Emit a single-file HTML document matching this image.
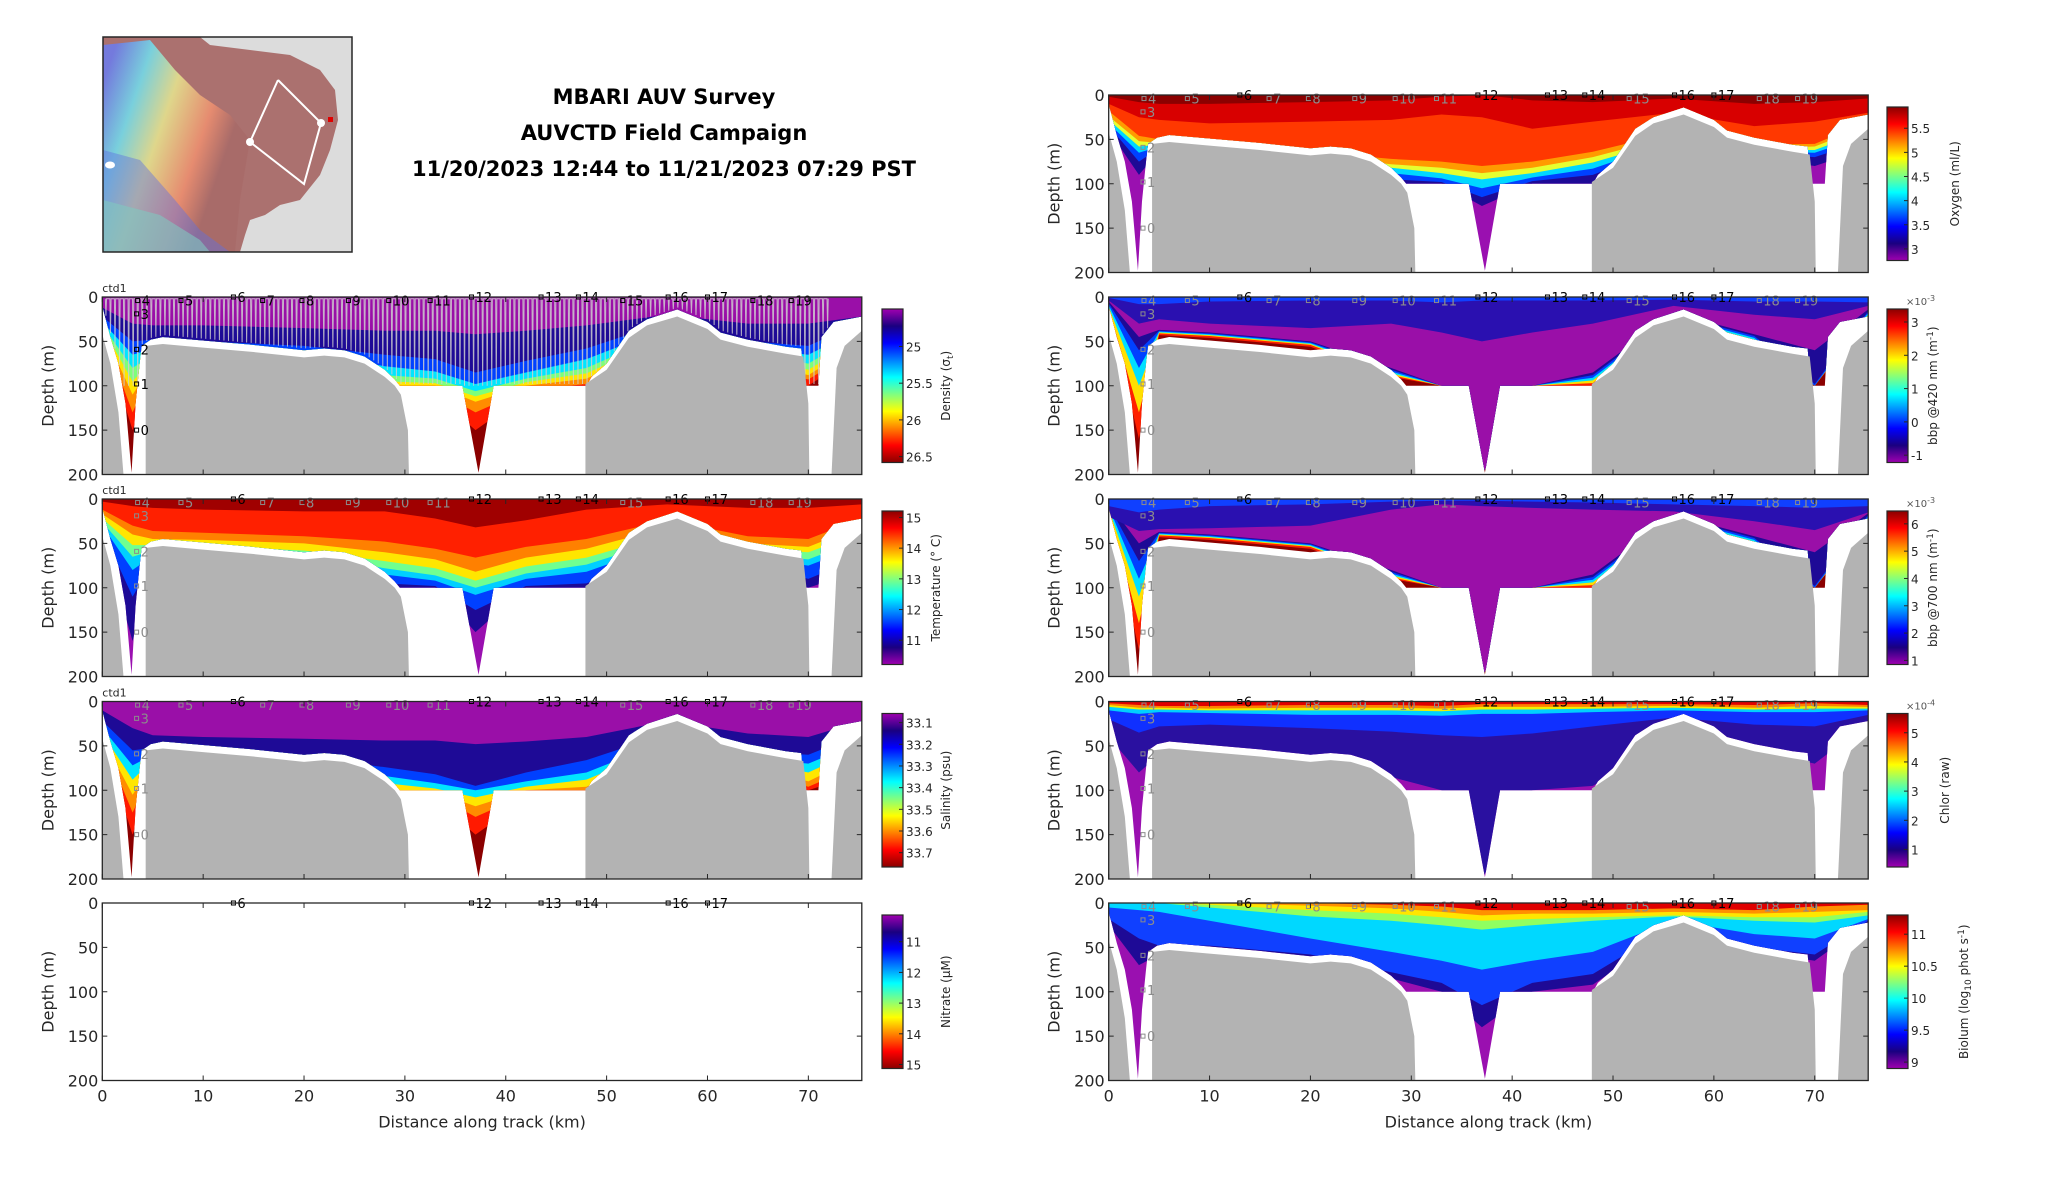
<!DOCTYPE html>
<html><head><meta charset="utf-8">
<style>
html,body{margin:0;padding:0;background:#fff;}
svg{display:block;font-family:"DejaVu Sans","Liberation Sans",sans-serif;}
</style></head>
<body>
<svg id="fig" width="2052" height="1188" viewBox="0 0 2052 1188" xmlns="http://www.w3.org/2000/svg">
<defs id="defs"></defs>
<g id="map">
  <defs>
    <linearGradient id="mapgrad" x1="0" y1="0.2" x2="0.8" y2="0.6">
      <stop offset="0" stop-color="#6a7cf0"/>
      <stop offset="0.25" stop-color="#70e0f0"/>
      <stop offset="0.5" stop-color="#e8e890"/>
      <stop offset="0.8" stop-color="#f09070"/>
      <stop offset="1" stop-color="#a86a68"/>
    </linearGradient>
  </defs>
  <rect x="103" y="37" width="249" height="215" fill="#dcdcdc"/>
  <path d="M103,37 L200,37 L210,45 L250,50 L290,55 L320,70 L335,90 L338,120 L330,150 L320,175 L300,200 L280,205 L265,215 L250,220 L245,235 L240,252 L103,252 Z" fill="#a86a68" opacity="0.95"/>
  <path d="M103,45 L150,40 L175,70 L200,95 L230,115 L250,140 L245,170 L240,200 L235,252 L103,252 Z" fill="url(#mapgrad)" opacity="0.85"/>
  <path d="M103,150 L140,160 L175,200 L200,230 L230,252 L103,252 Z" fill="#6070e0" opacity="0.45"/>
  <path d="M103,200 L160,215 L200,240 L210,252 L103,252 Z" fill="#80c8c0" opacity="0.6"/>
  <polyline points="278,80 321,123 304,184 250,142 278,80" fill="none" stroke="#fff" stroke-width="2"/>
  <circle cx="250" cy="142" r="4" fill="#fff"/>
  <circle cx="321" cy="123" r="4" fill="#fff"/>
  <ellipse cx="110" cy="165" rx="5" ry="3.5" fill="#fff"/>
  <rect x="328" y="117" width="5" height="5" fill="#e00000"/>
  <rect x="103" y="37" width="249" height="215" fill="none" stroke="#262626" stroke-width="1.5"/>
</g>
<g font-weight="bold" font-size="21" fill="#000" text-anchor="middle">
  <text x="664" y="104">MBARI AUV Survey</text>
  <text x="664" y="140">AUVCTD Field Campaign</text>
  <text x="664" y="176">11/20/2023 12:44 to 11/21/2023 07:29 PST</text>
</g>
<g id="panels"></g>
</svg>
<script>
const kmMax = 75.3;
const depthMax = 200;
const xs = [0, 3, 5, 10, 20, 28, 33, 37, 42, 48, 56, 64, 70, 75.3];
const dataBottomKm = [0,0.8,1.6,2.3,2.9,3.3,3.7,3.9,4.8,6,10,15,20,22,24,26,28,29,29.5,35.7,37.3,38.8,48,48.5,50,52.2,54,57,60,61.3,64,67.8,69.3,69.6,71,71.3,72.5,75.3];
const dataBottomM  = [10,45,75,120,198,120,75,55,48,45,49,54,60,58,60,67,82,93,100,100,198,100,100,90,75,38,25,14,28,40,48,56,58,100,100,45,28,22];
const bath1Km = [0,0,0.8,1.6,2.1];   const bath1M = [200,42,75,130,200];
const bath2Km = [4.3,4.3,6,10,15,20,22,24,26,28,29,29.6,30.3,30.4]; const bath2M = [200,55,53,57,62,68,66,68,75,90,100,110,150,200];
const bath3Km = [47.9,47.9,50,52.2,54,57,60,61.3,64,67.8,69.5,70,70.1]; const bath3M = [200,98,82,46,32,22,36,48,56,64,67,120,200];
const bath4Km = [72.3,72.8,73.6,75.3,75.3]; const bath4M = [200,80,55,38,200];
const xTicks = [0,10,20,30,40,50,60,70];
const yTicks = [0,50,100,150,200];
const stationLabels = ['4','5','6','7','8','9','10','11','12','13','14','15','16','17','18','19'];
const stationKm = [3.5,7.8,13,15.9,19.8,24.4,28.4,32.5,36.6,43.5,47.2,51.6,56.1,60,64.5,68.3];
const stationDepth = [4,4,0,4,4,4,4,4,0,0,0,4,0,0,4,4];
const stationMajor = [0,0,1,0,0,0,0,0,1,1,1,0,1,1,0,0];
const castLabels = ['3','2','1','0'];
const castDepth = [19,59,98,150];
const castKm = 3.4;

const denBands = ['#ff1a00','#ff8c00','#ffe600','#7dff7a','#00e5ff','#0040ff','#1e0a96','#9a0fa8'];
const den_red    = [40,150,85,80,80,110,110,150,110,110,60,80,100,60];
const den_orange = [38,130,80,75,75,105,105,130,105,98,55,75,93,55];
const den_yellow = [36,110,75,70,72,100,100,118,100,92,50,70,88,50];
const den_green  = [34,95,70,66,70,95,97,112,96,86,45,66,82,45];
const den_cyan   = [32,80,65,63,67,88,92,106,92,80,40,63,75,40];
const den_blue   = [28,65,58,58,62,78,84,98,85,70,35,58,65,35];
const den_navy   = [22,50,48,50,55,65,70,85,72,58,28,50,55,28];
const den_purple = [12,30,32,32,35,38,38,42,38,32,20,30,30,22];
const temBands = ['#1e0a96','#0040ff','#00cfff','#70ff90','#ffe600','#ff8000','#ff2000','#a00000'];
const tem_navy   = [40,160,80,75,80,100,100,150,100,100,70,80,100,80];
const tem_blue   = [35,110,72,68,72,95,98,125,98,95,60,72,90,65];
const tem_cyan   = [30,80,64,62,66,85,92,108,90,82,50,66,75,52];
const tem_green  = [26,65,58,58,62,78,86,100,84,74,45,62,68,45];
const tem_yellow = [22,52,52,53,58,70,78,92,76,66,40,56,60,38];
const tem_orange = [17,40,45,46,50,60,68,82,66,56,32,50,54,30];
const tem_red    = [12,30,36,38,42,48,56,66,54,45,24,42,45,22];
const tem_dred   = [3,8,10,12,14,14,22,32,24,12,6,10,10,6];
const salBands = ['#ff1a00','#ff8c00','#ffe600','#00e5ff','#0040ff','#1e0a96','#9a0fa8'];
const sal_red    = [45,150,85,80,85,110,110,150,110,110,70,85,100,80];
const sal_orange = [42,125,78,75,80,105,105,130,105,100,62,78,96,70];
const sal_yellow = [40,105,72,70,76,100,102,118,100,96,56,72,90,60];
const sal_cyan   = [36,88,66,66,72,92,98,108,96,88,50,67,80,52];
const sal_blue   = [30,72,60,62,68,84,92,100,90,80,44,63,70,45];
const sal_navy   = [22,55,52,56,62,74,82,95,80,66,36,56,60,36];
const sal_purple = [10,30,38,40,42,44,44,48,45,40,22,36,40,22];
const oxyBands = ['#1e0a96','#0040ff','#00d8ff','#e6ff30','#ff9a00','#ff3800','#d80000','#8b0000'];
const oxy_navy   = [40,90,63,66,78,100,100,125,100,100,60,70,80,60];
const oxy_blue   = [35,75,60,64,76,95,98,115,97,90,55,66,70,50];
const oxy_cyan   = [32,65,58,62,73,88,94,105,93,83,52,64,65,45];
const oxy_yellow = [28,58,56,60,70,82,88,95,88,76,50,62,62,40];
const oxy_orange = [24,52,54,58,68,78,82,88,82,70,46,60,58,35];
const oxy_ored   = [18,46,50,55,64,72,75,80,75,64,42,56,55,30];
const oxy_red    = [10,25,28,32,30,28,22,25,38,30,20,35,30,20];
const oxy_dred   = [2,8,10,10,8,6,2,0,6,8,4,10,8,4];
const b4Bands = ['#ff2000','#ffe000','#00e0ff','#0040ff','#1e0a96','#9a0fa8','#2a10b0','#1040ff'];
const b4_red    = [15,160,43,46,56,90,100,200,100,100,28,52,100,24];
const b4_yellow = [13,130,41,44,54,88,100,200,100,97,26,50,100,22];
const b4_cyan   = [11,100,40,43,53,86,100,200,100,94,24,48,100,20];
const b4_blue   = [9,80,39,42,52,84,100,200,100,91,22,46,100,18];
const b4_navy   = [7,60,38,41,51,82,100,200,100,88,20,44,98,16];
const b4_purple = [5,45,37,40,50,80,100,200,100,85,18,42,60,14];
const b4_topnavy= [4,30,25,30,35,30,40,50,40,30,10,20,25,10];
const b4_topblue= [1,8,8,5,4,4,6,4,4,4,3,5,5,6];
const b7Bands = ['#ff2000','#ffe000','#00e0ff','#0040ff','#1e0a96','#9a0fa8','#2a10b0','#1040ff'];
const b7_red    = [15,170,43,46,56,90,100,200,100,100,28,52,100,26];
const b7_yellow = [13,140,41,44,54,88,100,200,100,97,26,50,100,24];
const b7_cyan   = [11,110,40,43,53,86,100,200,100,94,24,48,100,22];
const b7_blue   = [9,90,39,42,52,84,100,200,100,91,22,46,100,20];
const b7_navy   = [7,70,38,41,51,82,100,200,100,88,20,44,98,18];
const b7_purple = [5,50,37,40,50,80,100,200,100,85,18,42,60,16];
const b7_topnavy= [20,36,34,33,30,12,6,8,10,12,14,25,35,15];
const b7_topblue= [8,15,12,8,6,3,2,2,3,4,6,8,10,8];
const chlBands = ['#2a10a0','#1030ff','#00d0ff','#f0f000','#ff8000','#e00000'];
const chl_navy   = [40,80,60,58,70,85,100,200,100,95,40,55,70,24];
const chl_blue   = [20,35,28,26,30,34,38,40,36,28,18,26,28,15];
const chl_cyan   = [10,14,12,13,15,15,16,14,14,12,10,12,12,10];
const chl_yellow = [6,9,9,10,10,10,11,9,9,8,7,9,8,8];
const chl_orange = [4,7,7,8,7,7,8,6,6,6,5,7,5,6];
const chl_red    = [2,4,5,5,4,4,5,3,3,3,3,4,2,4];
const bioBands = ['#1e0a96','#1040ff','#00d8ff','#90ff60','#ffe600','#ff9000','#e00000'];
const bio_navy   = [25,70,58,56,64,85,100,140,100,92,30,55,65,22];
const bio_blue   = [18,40,48,48,58,78,90,115,90,80,25,50,58,20];
const bio_cyan   = [5,8,10,20,40,55,65,75,65,55,20,35,40,18];
const bio_green  = [0,0,0,5,15,20,25,30,25,20,15,20,22,14];
const bio_yellow = [0,0,0,2,8,12,16,20,18,16,14,16,16,10];
const bio_orange = [0,0,0,0,3,6,10,14,12,12,10,12,10,8];
const bio_red    = [0,0,0,0,0,2,4,8,8,8,6,8,4,2];

const denTicks = [25,25.5,26,26.5];       const denTickLabels = ['25','25.5','26','26.5'];
const temTicks = [11,12,13,14,15];        const temTickLabels = ['11','12','13','14','15'];
const salTicks = [33.1,33.2,33.3,33.4,33.5,33.6,33.7]; const salTickLabels = ['33.1','33.2','33.3','33.4','33.5','33.6','33.7'];
const nitTicks = [11,12,13,14,15];        const nitTickLabels = ['11','12','13','14','15'];
const oxyTicks = [3,3.5,4,4.5,5,5.5];     const oxyTickLabels = ['3','3.5','4','4.5','5','5.5'];
const b4Ticks = [-1,0,1,2,3];             const b4TickLabels = ['-1','0','1','2','3'];
const b7Ticks = [1,2,3,4,5,6];            const b7TickLabels = ['1','2','3','4','5','6'];
const chlTicks = [1,2,3,4,5];             const chlTickLabels = ['1','2','3','4','5'];
const bioTicks = [9,9.5,10,10.5,11];      const bioTickLabels = ['9','9.5','10','10.5','11'];

const jetWarmTop = ['#8b0000','#ff0000','#ff8000','#ffff00','#80ff80','#00ffff','#0080ff','#0000ff','#1a0080','#a000b0'];

const NS = 'http://www.w3.org/2000/svg';
const rowTops = [95, 297, 499, 701.5, 903];
const rowH = 177.5;
const leftX = 102.3, rightX = 1108.7, axW = 759.5;

function mk(tag, attrs, parent){
  const e = document.createElementNS(NS, tag);
  for (const k in attrs) e.setAttribute(k, attrs[k]);
  if (parent) parent.appendChild(e);
  return e;
}
function interp(xarr, yarr, x){
  if (x <= xarr[0]) return yarr[0];
  for (let i=1;i<xarr.length;i++){
    if (x <= xarr[i]){ const t=(x-xarr[i-1])/(xarr[i]-xarr[i-1]||1); return yarr[i-1]+t*(yarr[i]-yarr[i-1]); }
  }
  return yarr[yarr.length-1];
}

const root = document.getElementById('panels');
const defs = document.getElementById('defs');
let clipId = 0;

function panel(o){
  const x0 = o.x0, y0 = o.y0;
  const sx = km => x0 + km/kmMax*axW;
  const sy = d => y0 + d/depthMax*rowH;
  const g = mk('g', {}, root);
  
  

  const cid = 'clip'+(clipId++);
  const cp = mk('clipPath', {id: cid}, defs);
  let pts = [[sx(0), sy(0)]];
  dataBottomKm.forEach((k,i)=>pts.push([sx(k), sy(dataBottomM[i])]));
  pts.push([sx(kmMax), sy(0)]);
  mk('polygon', {points: pts.map(p=>p.join(',')).join(' ')}, cp);

  if (o.bands){
    const dg = mk('g', {'clip-path': 'url(#'+cid+')'}, g);
    
    
    mk('rect', {x: sx(0), y: sy(0), width: axW, height: rowH, fill: o.base}, dg);
    o.bands.forEach((arr, bi) => {
      let p = [[sx(0), sy(0)], [sx(kmMax), sy(0)]];
      for (let i = xs.length-1; i >= 0; i--) p.push([sx(xs[i]), sy(arr[i])]);
      const poly = mk('polygon', {points: p.map(q=>q.join(',')).join(' '), fill: o.colors[bi]}, dg);
      
      
    });
    if (o.tracks){
      let tp = [];
      for (let k = 0.3; k < 72; k += 0.45){
        const b = Math.min(interp(dataBottomKm, dataBottomM, k) - 2, 100);
        tp.push([sx(k), sy(2)]);
        tp.push([sx(k+0.06), sy(b)]);
        tp.push([sx(k+0.12), sy(2)]);
      }
      const tr = mk('polyline', {points: tp.map(q=>q.join(',')).join(' '), fill: 'none', stroke: '#cfcfcf', 'stroke-width': 1, opacity: 0.85}, dg);
      
      
    }
  }
  if (o.bands){
    [[bath1Km,bath1M],[bath2Km,bath2M],[bath3Km,bath3M],[bath4Km,bath4M]].forEach(pair=>{
      const p = pair[0].map((k,i)=>[sx(k), sy(pair[1][i])]);
      const bp = mk('polygon', {points: p.map(q=>q.join(',')).join(' '), fill: '#b3b3b3'}, g);
      
      
    });
  }
  stationLabels.forEach((lab,i)=>{
    const major = stationMajor[i] === 1 || o.allBlack;
    if (o.empty && !major) return;
    const col = major ? '#000' : '#8c8c8c';
    const xx = sx(stationKm[i]), yy = sy(stationDepth[i]);
    const sq = mk('rect', {x: xx-2, y: yy-2, width: 4, height: 4, fill: 'none', stroke: col, 'stroke-width': 1}, g);
    
    
    const t = mk('text', {x: xx+4, y: yy+5, 'font-size': 13, fill: col}, g);
    t.textContent = lab;
    
    
  });
  if (!o.empty){
    castLabels.forEach((lab,i)=>{
      const col = o.allBlack ? '#000' : '#8c8c8c';
      const xx = sx(castKm), yy = sy(castDepth[i]);
      const sq = mk('rect', {x: xx-2, y: yy-2, width: 4, height: 4, fill: 'none', stroke: col, 'stroke-width': 1}, g);
      
      
      const t = mk('text', {x: xx+4, y: yy+5, 'font-size': 13, fill: col}, g);
      t.textContent = lab;
      
      
    });
  }
  if (o.ctd){
    const t = mk('text', {x: x0, y: y0-5, 'font-size': 11, fill: '#262626'}, g);
    t.textContent = 'ctd1';
    
    
  }
  const fr = mk('rect', {x: x0, y: y0, width: axW, height: rowH, fill: 'none', stroke: '#262626', 'stroke-width': 1.3}, g);
  
  
  yTicks.forEach(v=>{
    mk('line', {x1: x0, x2: x0+5, y1: sy(v), y2: sy(v), stroke: '#262626', 'stroke-width': 1}, g);
    mk('line', {x1: x0+axW-5, x2: x0+axW, y1: sy(v), y2: sy(v), stroke: '#262626', 'stroke-width': 1}, g);
    const t = mk('text', {x: x0-4, y: sy(v)+6, 'font-size': 16, fill: '#262626', 'text-anchor': 'end'}, g);
    t.textContent = String(v);
    
    
  });
  xTicks.forEach(v=>{
    mk('line', {x1: sx(v), x2: sx(v), y1: y0+rowH, y2: y0+rowH-5, stroke: '#262626', 'stroke-width': 1}, g);
    mk('line', {x1: sx(v), x2: sx(v), y1: y0, y2: y0+5, stroke: '#262626', 'stroke-width': 1}, g);
  });
  if (o.xlabels){
    xTicks.forEach(v=>{
      const t = mk('text', {x: sx(v), y: y0+rowH+21, 'font-size': 16, fill: '#262626', 'text-anchor': 'middle'}, g);
      t.textContent = String(v);
      
      
    });
    const xl = mk('text', {x: x0+axW/2, y: y0+rowH+47, 'font-size': 16, fill: '#262626', 'text-anchor': 'middle'}, g);
    xl.textContent = 'Distance along track (km)';
    
    
  }
  const yl = mk('text', {x: 0, y: 0, 'font-size': 16, fill: '#262626', 'text-anchor': 'middle', transform: 'translate('+(x0-49)+','+(y0+rowH/2)+') rotate(-90)'}, g);
  yl.textContent = 'Depth (m)';
  
  

  const cbx = o.cbx, cby = y0+12, cbh = rowH-24, cbw = 21;
  const gid = 'cbg'+clipId;
  const lg = mk('linearGradient', {id: gid, x1: 0, y1: 0, x2: 0, y2: 1}, defs);
  const stops = o.warmTop ? jetWarmTop : jetWarmTop.slice().reverse();
  stops.forEach((c,i)=>mk('stop', {offset: i/(stops.length-1), 'stop-color': c}, lg));
  const cbg = mk('g', {}, g);
  
  
  mk('rect', {x: cbx, y: cby, width: cbw, height: cbh, fill: 'url(#'+gid+')', stroke: '#262626', 'stroke-width': 1.2}, cbg);
  const cv = v => cby + (v - o.cbTop)/(o.cbBot - o.cbTop)*cbh;
  o.ticks.forEach((v,i)=>{
    mk('line', {x1: cbx+cbw-4, x2: cbx+cbw, y1: cv(v), y2: cv(v), stroke: '#262626', 'stroke-width': 1}, cbg);
    const t = mk('text', {x: cbx+cbw+3, y: cv(v)+5, 'font-size': 12, fill: '#262626'}, cbg);
    t.textContent = o.tickLabels[i];
    
    
  });
  if (o.exp){
    const t = mk('text', {x: cbx+cbw-2, y: cby-4, 'font-size': 10, fill: '#555'}, cbg);
    t.innerHTML = '×10<tspan dy="-4" font-size="8">' + o.exp + '</tspan>';
    
    
  }
  const ct = mk('text', {x: 0, y: 0, 'font-size': 12, fill: '#262626', 'text-anchor': 'middle', transform: 'translate('+o.cbTitleX+','+(cby+cbh/2)+') rotate(-90)'}, cbg);
  ct.innerHTML = o.cbTitle;
  
  
}

panel({name:'density', x0:leftX, y0:rowTops[1], base:'#8b0000', colors:denBands,
  bands:[den_red,den_orange,den_yellow,den_green,den_cyan,den_blue,den_navy,den_purple],
  tracks:true, allBlack:true, ctd:true, cbx:882, cbTop:24.49, cbBot:26.58, warmTop:false,
  ticks:denTicks, tickLabels:denTickLabels, cbTitleX:950,
  cbTitle:'Density (σ<tspan dy="3" font-size="9">t</tspan><tspan dy="-3">)</tspan>'});
panel({name:'temperature', x0:leftX, y0:rowTops[2], base:'#9a10b0', colors:temBands,
  bands:[tem_navy,tem_blue,tem_cyan,tem_green,tem_yellow,tem_orange,tem_red,tem_dred],
  ctd:true, cbx:882, cbTop:15.21, cbBot:10.21, warmTop:true,
  ticks:temTicks, tickLabels:temTickLabels, cbTitleX:940, cbTitle:'Temperature (° C)'});
panel({name:'salinity', x0:leftX, y0:rowTops[3], base:'#8b0000', colors:salBands,
  bands:[sal_red,sal_orange,sal_yellow,sal_cyan,sal_blue,sal_navy,sal_purple],
  ctd:true, cbx:882, cbTop:33.058, cbBot:33.766, warmTop:false,
  ticks:salTicks, tickLabels:salTickLabels, cbTitleX:950, cbTitle:'Salinity (psu)'});
panel({name:'nitrate', x0:leftX, y0:rowTops[4], empty:true, xlabels:true,
  cbx:882, cbTop:10.13, cbBot:15.13, warmTop:false,
  ticks:nitTicks, tickLabels:nitTickLabels, cbTitleX:950, cbTitle:'Nitrate (μM)'});

panel({name:'oxygen', x0:rightX, y0:rowTops[0], base:'#9a10b0', colors:oxyBands,
  bands:[oxy_navy,oxy_blue,oxy_cyan,oxy_yellow,oxy_orange,oxy_ored,oxy_red,oxy_dred],
  cbx:1887, cbTop:5.94, cbBot:2.76, warmTop:true,
  ticks:oxyTicks, tickLabels:oxyTickLabels, cbTitleX:1959, cbTitle:'Oxygen (ml/L)'});
panel({name:'bbp420', x0:rightX, y0:rowTops[1], base:'#8b0000', colors:b4Bands,
  bands:[b4_red,b4_yellow,b4_cyan,b4_blue,b4_navy,b4_purple,b4_topnavy,b4_topblue],
  cbx:1887, cbTop:3.39, cbBot:-1.22, warmTop:true, exp:'-3',
  ticks:b4Ticks, tickLabels:b4TickLabels, cbTitleX:1937,
  cbTitle:'bbp @420 nm (m<tspan dy="-4" font-size="9">-1</tspan><tspan dy="4">)</tspan>'});
panel({name:'bbp700', x0:rightX, y0:rowTops[2], base:'#8b0000', colors:b7Bands,
  bands:[b7_red,b7_yellow,b7_cyan,b7_blue,b7_navy,b7_purple,b7_topnavy,b7_topblue],
  cbx:1887, cbTop:6.47, cbBot:0.85, warmTop:true, exp:'-3',
  ticks:b7Ticks, tickLabels:b7TickLabels, cbTitleX:1937,
  cbTitle:'bbp @700 nm (m<tspan dy="-4" font-size="9">-1</tspan><tspan dy="4">)</tspan>'});
panel({name:'chlorophyll', x0:rightX, y0:rowTops[3], base:'#9a10b0', colors:chlBands,
  bands:[chl_navy,chl_blue,chl_cyan,chl_yellow,chl_orange,chl_red],
  cbx:1887, cbTop:5.66, cbBot:0.4, warmTop:true, exp:'-4',
  ticks:chlTicks, tickLabels:chlTickLabels, cbTitleX:1949, cbTitle:'Chlor (raw)'});
panel({name:'biolum', x0:rightX, y0:rowTops[4], base:'#9a10b0', colors:bioBands,
  bands:[bio_navy,bio_blue,bio_cyan,bio_green,bio_yellow,bio_orange,bio_red],
  xlabels:true, cbx:1887, cbTop:11.3, cbBot:8.9, warmTop:true,
  ticks:bioTicks, tickLabels:bioTickLabels, cbTitleX:1968,
  cbTitle:'Biolum (log<tspan dy="3" font-size="9">10</tspan><tspan dy="-3"> phot s</tspan><tspan dy="-4" font-size="9">-1</tspan><tspan dy="4">)</tspan>'});
</script>
</body></html>
